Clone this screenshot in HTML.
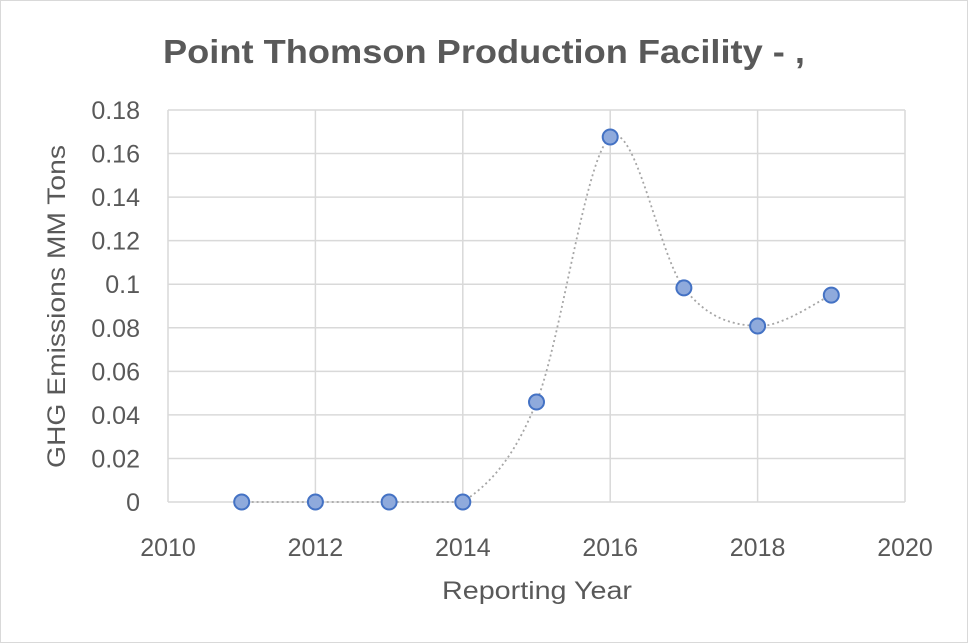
<!DOCTYPE html>
<html><head><meta charset="utf-8"><style>
html,body{margin:0;padding:0;background:#fff}
svg{display:block;font-family:"Liberation Sans",sans-serif}
</style></head><body>
<svg id="chart" width="968" height="643">
<rect x="0.5" y="0.5" width="967" height="642" fill="#fff" stroke="#d9d9d9"/>
<text x="163" y="63" textLength="642" lengthAdjust="spacingAndGlyphs" font-size="33" font-weight="bold" fill="#595959">Point Thomson Production Facility - ,</text>
<g id="grid"></g><g id="yticks"></g><g id="xticks"></g><g id="series"></g>
<text x="442" y="599" textLength="190" lengthAdjust="spacingAndGlyphs" font-size="25" fill="#595959">Reporting Year</text>
<text transform="translate(65,468) rotate(-90)" textLength="323" lengthAdjust="spacingAndGlyphs" font-size="25" fill="#595959">GHG Emissions MM Tons</text>
</svg>
<script>
const years=[2011,2012,2013,2014,2015,2016,2017,2018,2019];
const values=[0,0,0,0,0.0459,0.1676,0.0983,0.0808,0.095];
const yTicks=[0,0.02,0.04,0.06,0.08,0.1,0.12,0.14,0.16,0.18];
const yTickLabels=["0","0.02","0.04","0.06","0.08","0.1","0.12","0.14","0.16","0.18"];
const xTicks=[2010,2012,2014,2016,2018,2020];
const NS="http://www.w3.org/2000/svg";
const X0=168,X1=905,Y0=502,Y1=110;
const xs=v=>X0+(v-2010)/10*(X1-X0);
const ys=v=>Y0-v/0.18*(Y0-Y1);
function mk(tag,attrs,parent){const e=document.createElementNS(NS,tag);for(const k in attrs)e.setAttribute(k,attrs[k]);parent.appendChild(e);return e;}
const grid=document.getElementById('grid');
yTicks.forEach((t,i)=>{
  const l=mk('line',{x1:X0,x2:X1,y1:ys(t),y2:ys(t),stroke:'#d9d9d9','stroke-width':1.5},grid);
  
  
  const tx=mk('text',{x:140,y:ys(t)+9,'text-anchor':'end','font-size':25,fill:'#595959'},document.getElementById('yticks'));
  tx.textContent=yTickLabels[i];
  
  
});
xTicks.forEach(t=>{
  const l=mk('line',{x1:xs(t),x2:xs(t),y1:Y1,y2:Y0,stroke:'#d9d9d9','stroke-width':1.5},grid);
  
  
  const tx=mk('text',{x:xs(t),y:556,'text-anchor':'middle','font-size':25,fill:'#595959'},document.getElementById('xticks'));
  tx.textContent=t;
  
  
});
const pts=years.map((y,i)=>[xs(y),ys(values[i])]);
let d='M'+pts[0][0]+','+pts[0][1];
const k=1/6;
for(let i=0;i<pts.length-1;i++){
  const p0=pts[Math.max(0,i-1)],p1=pts[i],p2=pts[i+1],p3=pts[Math.min(pts.length-1,i+2)];
  const c1=[p1[0]+(p2[0]-p0[0])*k,Math.min(Y0,p1[1]+(p2[1]-p0[1])*k)];
  const c2=[p2[0]-(p3[0]-p1[0])*k,Math.min(Y0,p2[1]-(p3[1]-p1[1])*k)];
  d+=` C${c1[0]},${c1[1]} ${c2[0]},${c2[1]} ${p2[0]},${p2[1]}`;
}
const s=document.getElementById('series');
const line=mk('path',{d:d,fill:'none',stroke:'#a6a6a6','stroke-width':1.8,'stroke-dasharray':'2 3'},s);


pts.forEach(p=>{
  const c=mk('circle',{cx:p[0],cy:p[1],r:7.5,fill:'#8faadc',stroke:'#4472c4','stroke-width':2},s);
  
  
});
</script>
</body></html>
